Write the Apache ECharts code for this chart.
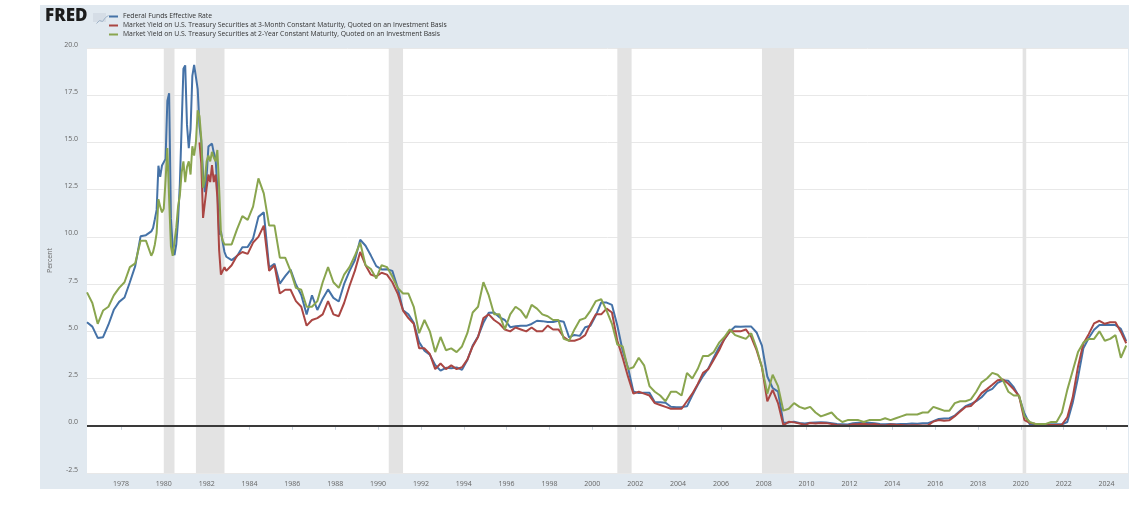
<!DOCTYPE html>
<html>
<head>
<meta charset="utf-8">
<script src="https://cdn.jsdelivr.net/npm/echarts@6/dist/echarts.min.js"></script>
<style>
  html, body { margin: 0; padding: 0; background: #fff; }
  #bg { position: absolute; left: 40px; top: 5px; width: 1089px; height: 484px; background: #e1e9f0; }
  #chart { position: absolute; left: 0; top: 0; width: 1145px; height: 508px; }
</style>
</head>
<body>
<div id="bg"></div>
<div id="chart"></div>
<script>
// observation dates: quarterly 1976-06..1979-06, monthly 1979-07..1982-12, quarterly 1983-03..2024-12
const dates = [];
function addRange(y0, m0, y1, m1, step) {
  let y = y0, m = m0;
  while (y < y1 || (y === y1 && m <= m1)) {
    dates.push(y + "-" + String(m).padStart(2, "0"));
    m += step;
    if (m > 12) { m -= 12; y++; }
  }
}
addRange(1976, 6, 1979, 6, 3);
addRange(1979, 7, 1982, 12, 1);
addRange(1983, 3, 2024, 12, 3);

const fedFunds = [
  5.48, 5.25, 4.65,
  4.69, 5.35, 6.14, 6.56,
  6.79, 7.60, 8.45, 10.03,
  10.09, 10.29,
  10.47, 10.94, 11.43, 13.77, 13.18, 13.78,
  13.82, 14.13, 17.19, 17.61, 10.98, 9.47, 9.03, 9.61, 10.87, 12.81, 15.85, 18.90,
  19.08, 15.93, 14.70, 15.72, 18.52, 19.10, 19.04, 17.82, 15.87, 15.08, 13.31, 12.37,
  13.22, 14.78, 14.68, 14.94, 14.45, 14.15, 12.59, 10.12, 10.31, 9.71, 9.20, 8.95,
  8.77, 8.98, 9.45, 9.47,   // 1983
  9.91, 11.06, 11.30, 8.38,
  8.58, 7.53, 7.92, 8.27,
  7.48, 6.92, 5.89, 6.91,
  6.13, 6.73, 7.22, 6.77,
  6.58, 7.51, 8.19, 8.76,
  9.85, 9.53, 9.01, 8.45,
  8.28, 8.29, 8.20, 7.31,   // 1990
  6.12, 5.90, 5.45, 4.43,
  3.98, 3.76, 3.22, 2.92,
  3.07, 3.04, 3.09, 2.96,
  3.48, 4.25, 4.73, 5.45,
  5.98, 6.00, 5.74, 5.60,
  5.22, 5.27, 5.30, 5.29,
  5.39, 5.56, 5.54, 5.50,
  5.49, 5.56, 5.51, 4.68,
  4.81, 4.76, 5.22, 5.30,
  5.85, 6.53, 6.52, 6.40,   // 2000
  5.31, 3.97, 3.07, 1.82,
  1.73, 1.75, 1.75, 1.24,
  1.25, 1.22, 1.01, 0.98,
  1.00, 1.03, 1.61, 2.16,
  2.63, 3.04, 3.62, 4.16,
  4.59, 4.99, 5.25, 5.24,
  5.26, 5.25, 4.94, 4.24,
  2.61, 2.00, 1.81, 0.16,
  0.18, 0.21, 0.15, 0.12,
  0.16, 0.18, 0.19, 0.18,   // 2010
  0.14, 0.09, 0.08, 0.07,
  0.13, 0.16, 0.14, 0.16,
  0.14, 0.09, 0.08, 0.09,
  0.08, 0.10, 0.09, 0.12,
  0.11, 0.13, 0.14, 0.24,
  0.36, 0.38, 0.40, 0.54,
  0.79, 1.04, 1.15, 1.30,
  1.51, 1.82, 1.95, 2.27,
  2.41, 2.38, 2.04, 1.55,
  0.65, 0.08, 0.09, 0.09,   // 2020
  0.07, 0.08, 0.08, 0.08,
  0.20, 1.21, 2.56, 4.10,
  4.65, 5.08, 5.33, 5.33,
  5.33, 5.33, 5.13, 4.48
];

const tBill3m = [
  null, null, null,
  null, null, null, null,
  null, null, null, null,
  null, null,
  null, null, null, null, null, null,
  null, null, null, null, null, null, null, null, null, null, null, null,
  null, null, null, null, null, null, null, null, 15.0, 13.9, 11.0, 11.0,
  12.6, 13.3, 12.9, 13.8, 12.9, 13.3, 12.1, 9.3, 8.0, 8.0, 8.4, 8.2,
  8.5, 9.0, 9.2, 9.1,   // 1983
  9.7, 10.0, 10.6, 8.2,
  8.5, 7.0, 7.2, 7.2,
  6.6, 6.3, 5.3, 5.6,
  5.7, 5.9, 6.6, 5.9,
  5.8, 6.5, 7.4, 8.2,
  9.2, 8.5, 8.0, 7.9,
  8.1, 8.0, 7.6, 7.0,   // 1990
  6.1, 5.7, 5.4, 4.1,
  4.1, 3.8, 3.0, 3.3,
  3.0, 3.2, 3.0, 3.1,
  3.5, 4.2, 4.7, 5.7,
  5.9, 5.6, 5.4, 5.1,
  5.0, 5.2, 5.1, 5.0,
  5.2, 5.0, 5.0, 5.3,
  5.1, 5.1, 4.7, 4.5,
  4.5, 4.6, 4.8, 5.4,
  5.9, 5.9, 6.2, 6.0,   // 2000
  4.5, 3.6, 2.6, 1.7,
  1.8, 1.7, 1.6, 1.2,
  1.1, 1.0, 0.9, 0.9,
  0.9, 1.3, 1.7, 2.2,
  2.8, 3.0, 3.5, 4.0,
  4.6, 5.0, 5.0, 5.0,
  5.1, 4.7, 4.0, 3.1,
  1.3, 1.9, 1.2, 0.03,
  0.21, 0.18, 0.12, 0.05,
  0.15, 0.12, 0.15, 0.14,   // 2010
  0.10, 0.04, 0.01, 0.01,
  0.08, 0.09, 0.11, 0.07,
  0.09, 0.04, 0.02, 0.07,
  0.05, 0.04, 0.02, 0.03,
  0.03, 0.02, 0.02, 0.23,
  0.30, 0.27, 0.29, 0.51,
  0.75, 1.00, 1.05, 1.34,
  1.73, 1.94, 2.17, 2.41,
  2.45, 2.22, 1.93, 1.57,
  0.30, 0.16, 0.11, 0.09,   // 2020
  0.03, 0.04, 0.04, 0.06,
  0.45, 1.49, 3.13, 4.36,
  4.85, 5.42, 5.56, 5.40,
  5.48, 5.48, 4.97, 4.37
];

const treasury2y = [
  7.06, 6.5, 5.4,
  6.1, 6.3, 6.9, 7.3,
  7.6, 8.4, 8.6, 9.8,
  9.8, 9.0,
  9.2, 9.6, 10.2, 12.0, 11.6, 11.3,
  11.5, 13.0, 14.7, 12.0, 9.5, 9.0, 9.1, 10.5, 11.6, 12.2, 13.4, 14.0,
  12.9, 13.7, 14.0, 13.3, 14.8, 14.3, 15.0, 16.7, 16.4, 15.2, 12.6, 13.0,
  14.0, 14.3, 14.0, 14.5, 14.2, 14.0, 14.6, 12.6, 10.2, 9.8, 9.6, 9.5,
  9.6, 10.4, 11.1, 10.9,   // 1983
  11.6, 13.1, 12.3, 10.6,
  10.6, 8.9, 8.9, 8.2,
  7.3, 7.2, 6.3, 6.3,
  6.6, 7.6, 8.4, 7.6,
  7.3, 8.0, 8.4, 9.0,
  9.7, 8.5, 8.3, 7.8,
  8.5, 8.4, 7.9, 7.3,   // 1990
  7.0, 7.0, 6.3, 4.9,
  5.6, 5.0, 3.9, 4.7,
  4.0, 4.1, 3.9, 4.2,
  4.9, 6.0, 6.3, 7.6,
  6.9, 5.9, 5.9, 5.1,
  5.9, 6.3, 6.1, 5.7,
  6.4, 6.2, 5.9, 5.8,
  5.6, 5.6, 4.6, 4.5,
  5.1, 5.6, 5.7, 6.1,
  6.6, 6.7, 6.1, 5.4,   // 2000
  4.3, 4.2, 3.0, 3.1,
  3.6, 3.2, 2.1, 1.8,
  1.6, 1.3, 1.8, 1.8,
  1.6, 2.8, 2.5, 3.0,
  3.7, 3.7, 3.9, 4.4,
  4.7, 5.1, 4.8, 4.7,
  4.6, 4.9, 4.1, 3.1,
  1.7, 2.7, 2.1, 0.8,
  0.9, 1.2, 1.0, 0.9,
  1.0, 0.7, 0.5, 0.6,   // 2010
  0.7, 0.4, 0.2, 0.3,
  0.3, 0.3, 0.2, 0.3,
  0.3, 0.3, 0.4, 0.3,
  0.4, 0.5, 0.6, 0.6,
  0.6, 0.7, 0.7, 1.0,
  0.9, 0.8, 0.8, 1.2,
  1.3, 1.3, 1.4, 1.8,
  2.3, 2.5, 2.8, 2.7,
  2.4, 1.8, 1.6, 1.6,
  0.5, 0.2, 0.1, 0.1,   // 2020
  0.1, 0.2, 0.2, 0.7,
  1.9, 2.9, 3.9, 4.4,
  4.6, 4.6, 5.0, 4.5,
  4.6, 4.8, 3.6, 4.25
];

const recessions = [
  ["1980-01", "1980-07"],
  ["1981-07", "1982-11"],
  ["1990-07", "1991-03"],
  ["2001-03", "2001-11"],
  ["2007-12", "2009-06"],
  ["2020-02", "2020-04"]
];

const xTickYears = [1978, 1980, 1982, 1984, 1986, 1988, 1990, 1992, 1994, 1996, 1998, 2000,
  2002, 2004, 2006, 2008, 2010, 2012, 2014, 2016, 2018, 2020, 2022, 2024];

const seriesNames = [
  "Federal Funds Effective Rate",
  "Market Yield on U.S. Treasury Securities at 3-Month Constant Maturity, Quoted on an Investment Basis",
  "Market Yield on U.S. Treasury Securities at 2-Year Constant Maturity, Quoted on an Investment Basis"
];
const colors = ["#4572a7", "#aa4643", "#89a54e"];

// "YYYY-MM" -> fractional year, so the x axis can be a plain value axis
function toYear(s) {
  const p = s.split("-");
  return +p[0] + (+p[1] - 1) / 12;
}
function pairs(vals) { return dates.map(function (d, i) { return [toYear(d), vals[i]]; }); }

function lineSeries(name, vals, color) {
  return {
    name: name,
    type: "line",
    data: pairs(vals),
    showSymbol: false,
    symbol: "none",
    z: 3,
    lineStyle: { width: 2, color: color },
    itemStyle: { color: color }
  };
}

const chart = echarts.init(document.getElementById("chart"));
chart.setOption({
  animation: false,
  textStyle: { fontFamily: "Open Sans" },
  grid: {
    left: 87,
    right: 17,
    top: 48,
    bottom: 35,
    show: true,
    backgroundColor: "#ffffff",
    borderWidth: 0
  },
  legend: {
    data: seriesNames,
    orient: "vertical",
    left: 109,
    top: 13,
    padding: 0,
    itemGap: 2,
    itemWidth: 9,
    itemHeight: 2,
    icon: "rect",
    textStyle: { fontSize: 6.8, color: "#333", lineHeight: 7 }
  },
  graphic: [
    {
      type: "text",
      left: 45,
      top: 8,
      style: { text: "FRED", fontSize: 17, fontWeight: 800, fontFamily: "Open Sans", fill: "#1c1c1c" }
    },
    {
      type: "rect",
      left: 93,
      top: 13,
      shape: { width: 13, height: 9 },
      style: { fill: "#d5dde6" }
    },
    {
      type: "polyline",
      left: 94,
      top: 13,
      shape: { points: [[0, 8], [3, 5], [6, 6], [9, 2], [12, 0]] },
      style: { stroke: "#9fb3c8", lineWidth: 1, fill: null }
    }
  ],
  xAxis: {
    type: "value",
    min: toYear("1976-06"),
    max: 2025,
    axisLine: { show: false },
    splitLine: { show: false },
    axisTick: {
      show: true,
      length: 4,
      customValues: xTickYears,
      lineStyle: { color: "#c8d2dc" }
    },
    axisLabel: {
      customValues: xTickYears,
      formatter: function (v) { return String(Math.round(v)); },
      fontSize: 7,
      color: "#666",
      margin: 7
    }
  },
  yAxis: {
    type: "value",
    min: -2.5,
    max: 20,
    interval: 2.5,
    name: "Percent",
    nameLocation: "middle",
    nameRotate: 90,
    nameGap: 29,
    nameTextStyle: { fontSize: 7, color: "#666" },
    axisLine: { show: false },
    axisTick: { show: false },
    splitLine: { lineStyle: { color: "#e8e8e8", width: 1 } },
    axisLabel: {
      fontSize: 7,
      color: "#666",
      margin: 9,
      verticalAlign: "bottom",
      formatter: function (v) { return v.toFixed(1); }
    }
  },
  series: [
    {
      name: "recessions",
      type: "line",
      data: [],
      z: 1,
      silent: true,
      markArea: {
        silent: true,
        itemStyle: { color: "#e3e3e3" },
        data: recessions.map(function (r) { return [{ xAxis: toYear(r[0]) }, { xAxis: toYear(r[1]) }]; })
      },
      markLine: {
        silent: true,
        symbol: "none",
        label: { show: false },
        lineStyle: { color: "#3a3a3a", width: 2, type: "solid" },
        data: [{ yAxis: 0 }]
      }
    },
    lineSeries(seriesNames[0], fedFunds, colors[0]),
    lineSeries(seriesNames[1], tBill3m, colors[1]),
    lineSeries(seriesNames[2], treasury2y, colors[2])
  ]
});
</script>
</body>
</html>
